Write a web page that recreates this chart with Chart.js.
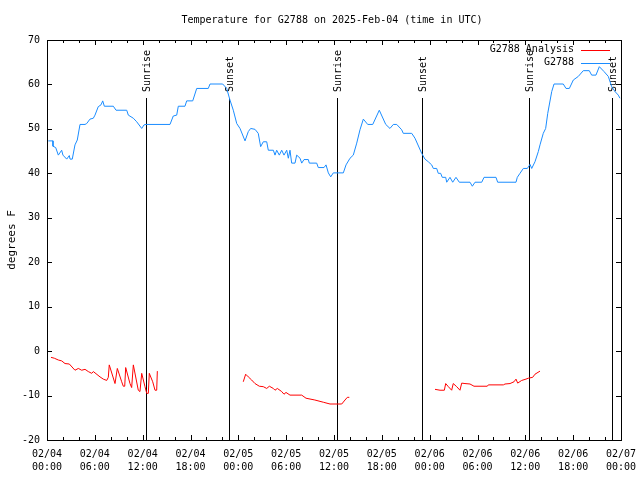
<!DOCTYPE html>
<html lang="en">
<head>
    <meta charset="UTF-8">
    <title>Temperature for G2788</title>
    <script src="https://cdn.jsdelivr.net/npm/chart.js"></script>
    <style>
        body { margin: 0; background: #fff; }
        #wrap { width: 640px; height: 480px; }
    </style>
</head>
<body>
    <div id="wrap"><canvas id="tempChart" width="640" height="480"></canvas></div>

    <script>
        // hours since 02/04 00:00 UTC
        const blueHours = [0.16,0.75,0.75,1.09,1.42,1.84,2.0,2.47,2.8,2.89,
            3.17,3.51,3.8,4.14,4.77,4.98,5.39,5.81,6.02,6.43,
            6.77,6.99,7.19,8.32,8.66,10.0,10.2,10.83,11.25,11.88,
            12.17,12.42,15.43,15.84,16.27,16.47,17.31,17.52,18.28,18.78,
            20.23,20.45,22.04,22.54,22.95,23.37,23.8,24.21,24.84,25.25,
            25.55,26.09,26.5,26.8,27.13,27.56,27.76,28.39,28.6,28.81,
            29.14,29.44,29.73,30.07,30.27,30.48,30.69,31.11,31.32,31.74,
            31.95,32.24,32.78,32.9,33.83,34.03,34.75,35.0,35.29,35.59,
            35.91,37.17,37.51,38.01,38.42,38.85,39.26,39.68,40.23,40.86,
            41.68,42.49,43.02,43.44,43.87,44.49,44.69,45.75,46.16,47.0,
            47.41,47.83,48.25,48.46,48.88,49.08,49.38,49.58,50.01,50.14,
            50.55,50.89,51.3,51.72,53.06,53.35,53.69,54.53,54.82,56.32,
            56.53,58.83,58.99,59.33,59.75,60.25,60.59,60.8,61.21,61.63,
            61.84,62.25,62.55,62.81,63.31,63.6,64.76,65.1,65.52,66.02,
            66.64,67.27,68.02,68.32,68.86,69.28,69.87,70.41,70.83,71.25,
            71.66,71.87];
        const blueTemps = [47.3,47.3,46.1,45.8,44.1,45.2,44.1,43.2,44,43.2,
            43.2,46.4,47.5,51,51,51.2,52.2,52.4,53.1,55,
            55.4,56.3,55.1,55.1,54.2,54.2,53.1,52.4,51.6,50.1,
            50.9,51,51,52.9,53.1,55.1,55.1,56.3,56.3,59.1,
            59.1,60.1,60.1,59.1,56.5,54.2,51.2,50.1,47.3,49.4,
            50.1,49.9,49,46,47.1,47.1,45.2,45.2,44.1,45.2,
            44.1,45.2,44.1,45.2,43.4,45.2,42.3,42.3,44.1,43.4,
            42.3,43.1,43.1,42.3,42.3,41.3,41.3,41.9,40.1,39.2,
            40.1,40.1,41.9,43.4,44.1,46.8,49.8,52.2,51,51,
            54.2,51,50.1,51,51,49.8,49,49,47.9,44.5,
            43.2,42.6,41.9,41.1,41.1,40,40,39.1,39.1,38,
            39.1,38,39.1,38,38,37.1,38,38,39.1,39.1,
            38,38,39.1,40,41.1,41.1,42,41.1,42.6,44.9,
            46.4,49,50.1,53.5,58.4,60.1,60.1,59.1,59.1,61,
            61.8,63.1,63.1,62.1,62.1,64,62.9,61.8,59.5,58.4,
            57.6,56.9];

        const redHours = [0.5,0.92,1.42,1.84,2.26,2.8,3.51,3.93,4.35,4.77,
            5.18,5.61,5.81,6.65,7.06,7.49,7.69,7.81,8.53,8.82,
            9.37,9.57,9.75,9.87,10.41,10.62,10.83,11.45,11.66,11.88,
            12.29,12.51,12.71,12.83,13.26,13.55,13.76,13.84,
            18,
            24.62,24.92,25.25,25.67,26.09,26.63,27.13,27.56,27.89,28.39,
            28.6,28.89,29.44,29.73,29.98,30.48,31.95,32.49,33.6,34.66,
            35.5,36.97,37.38,37.67,37.92,
            42,
            48.67,49.3,49.84,50.01,50.34,50.76,50.96,51.39,51.8,52.02,
            52.43,53.06,53.56,55.23,55.36,57.24,57.45,58.08,58.58,58.83,
            59.04,59.54,60.08,60.37,60.92,61.21,61.84];
        const redTemps = [-1.4,-1.6,-2,-2.2,-2.8,-2.9,-4.3,-3.9,-4.3,-4.1,
            -4.6,-5,-4.6,-5.8,-6.3,-6.6,-5.9,-3.1,-7.3,-3.9,
            -6.9,-7.9,-7.9,-3.7,-7.3,-8.2,-3.1,-8.8,-9.1,-5,
            -8,-9.5,-9.5,-5,-6.9,-8.8,-8.8,-4.5,
            null,
            -6.9,-5.2,-5.8,-6.5,-7.3,-7.9,-8,-8.4,-7.9,-8.4,
            -8.8,-8.4,-9.1,-9.7,-9.3,-9.9,-9.9,-10.6,-11,-11.5,
            -11.9,-11.9,-11,-10.4,-10.4,
            null,
            -8.6,-8.8,-8.8,-7.3,-8,-8.8,-7.3,-8,-8.8,-7.2,
            -7.3,-7.4,-7.9,-7.9,-7.6,-7.6,-7.4,-7.3,-6.9,-6.3,
            -7.2,-6.6,-6.3,-6.1,-5.9,-5.2,-4.5];

        const sunHours = [12.42, 22.87, 36.42, 47.0, 60.5, 70.91];
        const sunLabels = ['Sunrise', 'Sunset', 'Sunrise', 'Sunset', 'Sunrise', 'Sunset'];

        const xTickLabels = [
            ['02/04', '00:00'], ['02/04', '06:00'], ['02/04', '12:00'], ['02/04', '18:00'],
            ['02/05', '00:00'], ['02/05', '06:00'], ['02/05', '12:00'], ['02/05', '18:00'],
            ['02/06', '00:00'], ['02/06', '06:00'], ['02/06', '12:00'], ['02/06', '18:00'],
            ['02/07', '00:00']
        ];
        const seriesNames = ['G2788 Analysis', 'G2788'];
        const seriesColors = ['#ff0000', '#1a8cff'];

        const FONT = '"DejaVu Sans Mono", "Liberation Mono", monospace';

        function crisp(v) { return Math.round(v) + 0.5; }

        const decor = {
            id: 'decor',
            beforeDatasetsDraw(chart) {
                const { ctx, chartArea: a, scales } = chart;
                const x = scales.x, y = scales.y;
                ctx.save();
                ctx.strokeStyle = '#000';
                ctx.lineWidth = 1;
                // frame
                ctx.strokeRect(crisp(a.left), crisp(a.top), Math.round(a.right - a.left), Math.round(a.bottom - a.top));
                // inward ticks
                ctx.beginPath();
                for (let h = 0; h <= 72; h += 2) {
                    const px = crisp(x.getPixelForValue(h));
                    const len = h % 6 === 0 ? 5 : 3;
                    ctx.moveTo(px, a.bottom); ctx.lineTo(px, a.bottom - len);
                    ctx.moveTo(px, a.top); ctx.lineTo(px, a.top + len);
                }
                for (let v = -20; v <= 70; v += 10) {
                    const py = crisp(y.getPixelForValue(v));
                    ctx.moveTo(a.left, py); ctx.lineTo(a.left + 5, py);
                    ctx.moveTo(a.right, py); ctx.lineTo(a.right - 5, py);
                }
                ctx.stroke();
                // sunrise / sunset markers
                ctx.font = '10px ' + FONT;
                ctx.fillStyle = '#000';
                sunHours.forEach((h, i) => {
                    const px = crisp(x.getPixelForValue(h));
                    ctx.beginPath();
                    ctx.moveTo(px, a.bottom);
                    ctx.lineTo(px, a.top + 58);
                    ctx.stroke();
                    ctx.save();
                    ctx.translate(px + 1, a.top + 52);
                    ctx.rotate(-Math.PI / 2);
                    ctx.textAlign = 'left';
                    ctx.textBaseline = 'middle';
                    ctx.fillText(sunLabels[i], 0, 0);
                    ctx.restore();
                });
                ctx.restore();
            },
            afterDraw(chart) {
                const { ctx, chartArea: a } = chart;
                ctx.save();
                ctx.fillStyle = '#000';
                ctx.font = '10px ' + FONT;
                ctx.textBaseline = 'middle';
                ctx.textAlign = 'center';
                ctx.fillText('Temperature for G2788 on 2025-Feb-04 (time in UTC)', (a.left + a.right) / 2 - 2, 20);
                // y title
                ctx.save();
                ctx.translate(12, 240);
                ctx.rotate(-Math.PI / 2);
                ctx.font = '11px ' + FONT;
                ctx.fillText('degrees F', 0, 0);
                ctx.restore();
                // legend
                ctx.textAlign = 'right';
                seriesNames.forEach((name, i) => {
                    const ly = a.top + 9.5 + i * 13;
                    ctx.fillStyle = '#000';
                    ctx.fillText(name, a.right - 47, ly);
                    ctx.strokeStyle = seriesColors[i];
                    ctx.lineWidth = 1;
                    ctx.beginPath();
                    ctx.moveTo(a.right - 40, Math.round(ly) + 0.5);
                    ctx.lineTo(a.right - 11, Math.round(ly) + 0.5);
                    ctx.stroke();
                });
                ctx.restore();
            }
        };

        const ctx = document.getElementById('tempChart').getContext('2d');
        new Chart(ctx, {
            type: 'line',
            data: {
                datasets: [
                    {
                        label: seriesNames[0],
                        data: redHours.map((h, i) => ({ x: h, y: redTemps[i] })),
                        borderColor: seriesColors[0],
                        borderWidth: 1,
                        pointRadius: 0,
                        spanGaps: false
                    },
                    {
                        label: seriesNames[1],
                        data: blueHours.map((h, i) => ({ x: h, y: blueTemps[i] })),
                        borderColor: seriesColors[1],
                        borderWidth: 1,
                        pointRadius: 0
                    }
                ]
            },
            options: {
                responsive: false,
                animation: false,
                layout: { padding: { top: 40, right: 19, left: 0, bottom: 0 } },
                plugins: {
                    legend: { display: false },
                    tooltip: { enabled: false }
                },
                scales: {
                    x: {
                        type: 'linear',
                        min: 0,
                        max: 72,
                        grid: { display: false, drawTicks: false },
                        border: { display: false },
                        ticks: {
                            stepSize: 6,
                            autoSkip: false,
                            maxRotation: 0,
                            padding: 8,
                            color: '#000',
                            font: { family: FONT, size: 10, lineHeight: 1.3 },
                            callback: (v) => xTickLabels[v / 6]
                        },
                        afterFit: (s) => {
                            s.height = 40;
                            s.paddingLeft = 0;
                            s.paddingRight = 0;
                        }
                    },
                    y: {
                        min: -20,
                        max: 70,
                        grid: { display: false, drawTicks: false },
                        border: { display: false },
                        ticks: {
                            stepSize: 10,
                            padding: 7,
                            color: '#000',
                            font: { family: FONT, size: 10 }
                        },
                        afterFit: (s) => {
                            s.width = 47;
                            s.paddingTop = 0;
                            s.paddingBottom = 0;
                        }
                    }
                }
            },
            plugins: [decor]
        });
    </script>
</body>
</html>
